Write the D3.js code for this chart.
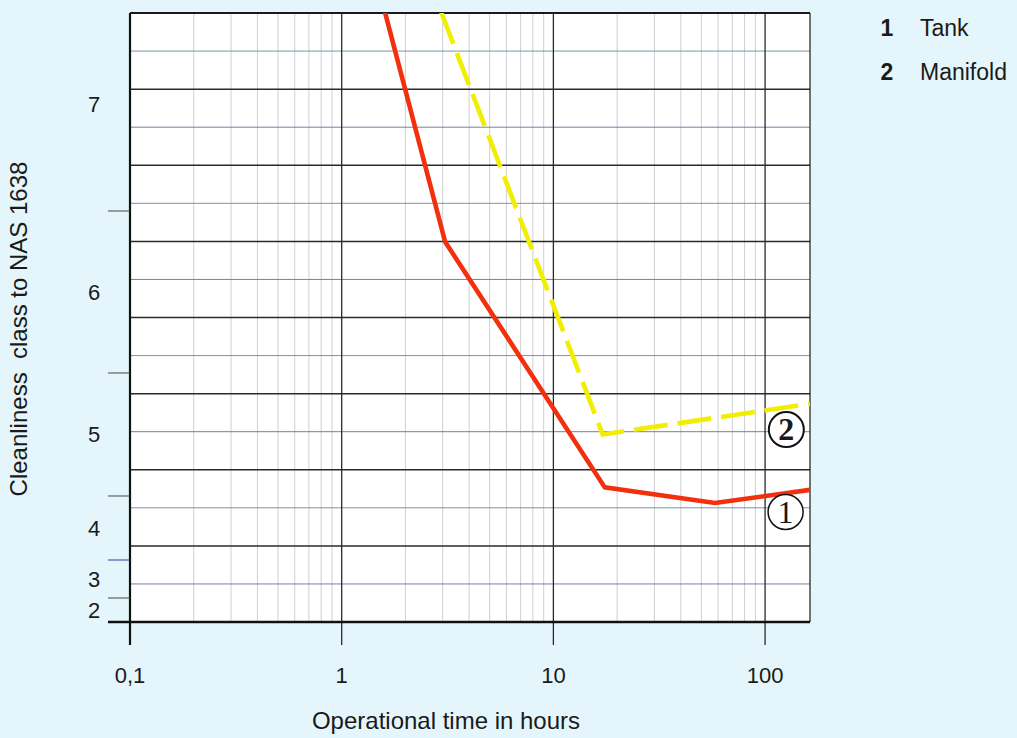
<!DOCTYPE html>
<html>
<head>
<meta charset="utf-8">
<script src="https://cdn.jsdelivr.net/npm/d3@7"></script>
<style>
  html, body { margin: 0; padding: 0; background: #e4f6fb; }
  svg { display: block; }
  text { font-family: "Liberation Sans", Arial, Helvetica, sans-serif; fill: #1a1a1a; }
</style>
</head>
<body>
<svg id="chart" width="1017" height="738"></svg>
<script>
// Operational time (hours) against NAS 1638 cleanliness class
const tankHours      = [1.6, 3.08, 17.5, 58, 163];
const tankClass      = [7.43, 6.31, 4.57, 4.39, 4.55];
const manifoldHours  = [2.95, 17.1, 163];
const manifoldClass  = [7.43, 5.0, 5.25];

const xTickValues = [0.1, 1, 10, 100];
const xTickLabels = ["0,1", "1", "10", "100"];
const classLabels = [2, 3, 4, 5, 6, 7];
const classEdges  = [1.5, 2.5, 3.5, 4.5, 5.5, 6.5, 7.5];

const legendNumbers = ["1", "2"];
const legendNames   = ["Tank", "Manifold"];

// plot frame
const pLeft = 130, pRight = 810, pTop = 13, pBottom = 622;
const pH = pBottom - pTop;

const svg = d3.select("#chart");

const x = d3.scaleLog().domain([0.1, 163]).range([pLeft, pRight]);

// class bands are unequal in height: edge positions as fractions of the plot height
const edgeFrac = [0, 0.0394, 0.1018, 0.2069, 0.4089, 0.6749, 1.0263];
const y = d3.scaleLinear()
  .domain(classEdges)
  .range(edgeFrac.map(f => pBottom - f * pH));

// uniform background ruling: 16 rows
const row = d3.scaleLinear().domain([0, 16]).range([pBottom, pTop]);

svg.append("rect")
  .attr("x", pLeft).attr("y", pTop)
  .attr("width", pRight - pLeft).attr("height", pH)
  .attr("fill", "#ffffff");

// vertical minor lines (2..9 of each decade)
const minor = [];
[0.1, 1, 10, 100].forEach(d => {
  for (let k = 2; k <= 9; k++) { const v = d * k; if (v < 163) minor.push(v); }
});
svg.append("g").selectAll("line").data(minor).join("line")
  .attr("x1", d => x(d)).attr("x2", d => x(d))
  .attr("y1", pTop).attr("y2", pBottom)
  .attr("stroke", "#cfcfd4").attr("stroke-width", 1);

// horizontal ruling
const rowColors = ["#7a5a6a", "#6b6f96", "#9a8a70", "#6a8a96"];
svg.append("g").selectAll("line").data(d3.range(1, 16)).join("line")
  .attr("x1", pLeft).attr("x2", pRight)
  .attr("y1", d => row(d)).attr("y2", d => row(d))
  .attr("stroke", d => d % 2 === 0 ? "#2a2a2a" : rowColors[d % 4])
  .attr("stroke-width", d => d % 2 === 0 ? 1.5 : 0.9);

// vertical decade lines
svg.append("g").selectAll("line").data([1, 10, 100]).join("line")
  .attr("x1", d => x(d)).attr("x2", d => x(d))
  .attr("y1", pTop).attr("y2", pBottom + 23)
  .attr("stroke", "#2a2a2a").attr("stroke-width", 1.3);

// frame: top and right
svg.append("line").attr("x1", pLeft).attr("x2", pRight).attr("y1", pTop).attr("y2", pTop)
  .attr("stroke", "#1a1a1a").attr("stroke-width", 1.8);
svg.append("line").attr("x1", pRight).attr("x2", pRight).attr("y1", pTop).attr("y2", pBottom)
  .attr("stroke", "#1a1a1a").attr("stroke-width", 1.2);

// left axis line and class boundary ticks
svg.append("line").attr("x1", pLeft).attr("x2", pLeft).attr("y1", pTop).attr("y2", pBottom + 23)
  .attr("stroke", "#111").attr("stroke-width", 2.2);
svg.append("g").selectAll("line").data(classEdges.slice(1, 6)).join("line")
  .attr("x1", pLeft - 22).attr("x2", pLeft)
  .attr("y1", d => y(d)).attr("y2", d => y(d))
  .attr("stroke", (d, i) => i === 1 ? "#2a3a9a" : "#444").attr("stroke-width", 1);

// bottom axis line
svg.append("line").attr("x1", pLeft - 22).attr("x2", pRight)
  .attr("y1", pBottom).attr("y2", pBottom)
  .attr("stroke", "#111").attr("stroke-width", 2.6);

// tick labels
svg.append("g").selectAll("text").data(xTickValues).join("text")
  .attr("x", d => x(d)).attr("y", 683)
  .attr("text-anchor", "middle").attr("font-size", 22)
  .text((d, i) => xTickLabels[i]);

svg.append("g").selectAll("text").data(classLabels).join("text")
  .attr("x", 94).attr("y", d => y(d)).attr("dy", "0.36em")
  .attr("text-anchor", "middle").attr("font-size", 22)
  .text(d => d);

// axis titles
svg.append("text")
  .attr("x", 446).attr("y", 729)
  .attr("text-anchor", "middle").attr("font-size", 24)
  .text("Operational time in hours");
svg.append("text")
  .attr("transform", "translate(27,329) rotate(-90)")
  .attr("text-anchor", "middle").attr("font-size", 24)
  .style("white-space", "pre")
  .text("Cleanliness  class to NAS 1638");

// curves
svg.append("clipPath").attr("id", "plotClip").append("rect")
  .attr("x", pLeft).attr("y", pTop).attr("width", pRight - pLeft).attr("height", pH);

const line = d3.line().x(d => x(d[0])).y(d => y(d[1]));
const g = svg.append("g").attr("clip-path", "url(#plotClip)");

g.append("path")
  .datum(manifoldHours.map((h, i) => [h, manifoldClass[i]]))
  .attr("d", line).attr("fill", "none")
  .attr("stroke", "#f2ee00").attr("stroke-width", 4.6)
  .attr("stroke-dasharray", "34,10");

g.append("path")
  .datum(tankHours.map((h, i) => [h, tankClass[i]]))
  .attr("d", line).attr("fill", "none")
  .attr("stroke", "#f2300e").attr("stroke-width", 4.6)
  .attr("stroke-linejoin", "miter");

// circled curve markers
const markers = [
  { n: "2", h: 126, c: 5.04, bold: true },
  { n: "1", h: 125, c: 4.25, bold: false }
];
const mg = svg.append("g").selectAll("g").data(markers).join("g")
  .attr("transform", d => `translate(${x(d.h)},${y(d.c)})`);
mg.append("circle").attr("r", 17.5)
  .attr("fill", "#ffffff").attr("stroke", "#111")
  .attr("stroke-width", d => d.bold ? 2 : 1.5);
mg.append("text")
  .attr("text-anchor", "middle").attr("dy", "0.34em")
  .attr("font-size", 32)
  .style("font-family", "'Liberation Serif', 'DejaVu Serif', serif")
  .attr("font-weight", d => d.bold ? "bold" : "normal")
  .text(d => d.n);

// legend
const lg = svg.append("g").selectAll("g").data(legendNames).join("g")
  .attr("transform", (d, i) => `translate(0,${36 + i * 44})`);
lg.append("text").attr("x", 887).attr("text-anchor", "middle")
  .attr("font-size", 23).attr("font-weight", "bold")
  .text((d, i) => legendNumbers[i]);
lg.append("text").attr("x", 920).attr("font-size", 23).text(d => d);
</script>
</body>
</html>
